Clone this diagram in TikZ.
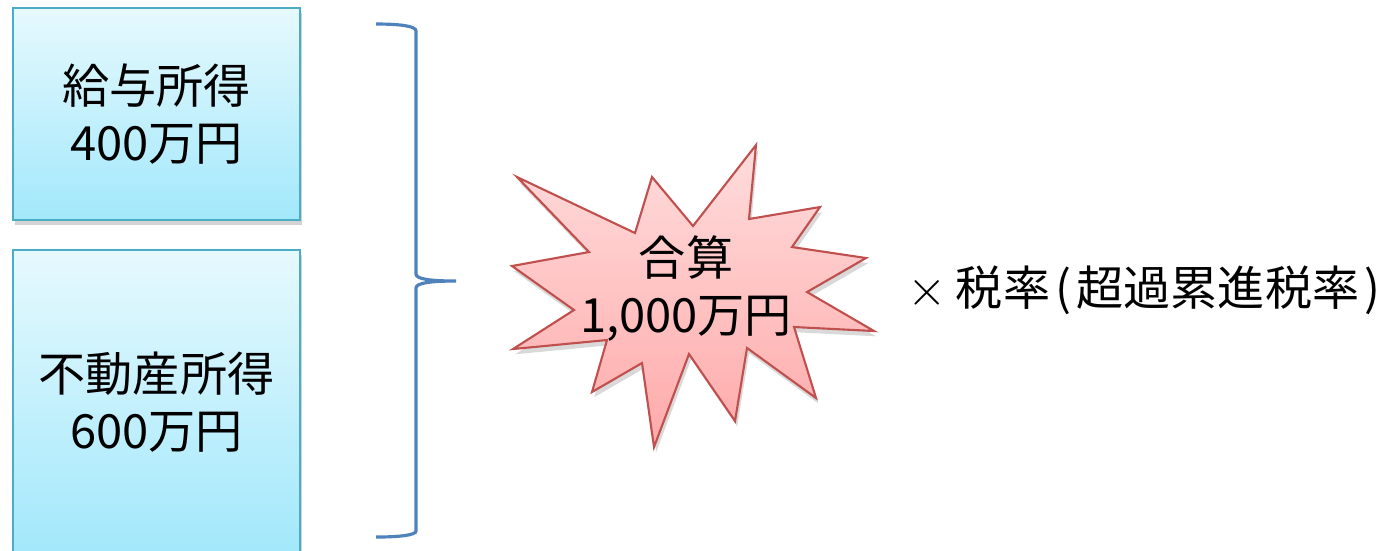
\documentclass[tikz,border=0pt]{standalone}
\usepackage{fontspec}
\setmainfont{Noto Sans CJK JP}
\usetikzlibrary{shadows}

\definecolor{boxline}{HTML}{4BACC6}
\definecolor{boxtop}{HTML}{E6F9FE}
\definecolor{boxbottom}{HTML}{A2E8FB}
\definecolor{braceblue}{HTML}{4F81BD}
\definecolor{startop}{HTML}{FFDCDC}
\definecolor{starbottom}{HTML}{FFAAAA}
\definecolor{starline}{HTML}{C0504D}

\tikzset{
  incomebox/.style={draw=boxline, line width=0.6pt, top color=boxtop, bottom color=boxbottom,
    minimum width=2.87cm, align=center,
    drop shadow={shadow xshift=0.6pt, shadow yshift=-1.5pt, opacity=0.35}},
  burst/.style={draw=starline, line width=0.6pt, top color=startop, bottom color=starbottom,
    line join=miter, drop shadow={shadow xshift=0.6pt, shadow yshift=-1.5pt, opacity=0.3}},
  bracket/.style={braceblue, line width=0.9pt}
}

\begin{document}
\begin{tikzpicture}[x=0.01cm, y=-0.01cm, font=\fontsize{13.4}{16.2}\selectfont]
        \useasboundingbox (0,0) rectangle (1383,550);

        % Income boxes
        \node[incomebox, minimum height=2.12cm] (salary) at (156.5,114) {給与所得\\400万円};
        \node[incomebox, minimum height=3.05cm] (realestate) at (156.5,402.5) {不動産所得\\600万円};

        % Brace
        \coordinate (bracetip) at (456,281);
        \draw[bracket] (376,24) .. controls (400,24) and (416,26) .. (416,31) -- (416,274)
            .. controls (416,279) and (430,281) .. (bracetip)
            .. controls (430,281) and (416,283) .. (416,288) -- (416,531)
            .. controls (416,535) and (400,537) .. (376,537);

        % Starburst
        \draw[burst] (517,177) -- (635,233) -- (652,177) -- (693,226) -- (756,145) -- (749,219)
            -- (820,207) -- (792,247) -- (866,258) -- (807,292) -- (874,331) -- (794,327)
            -- (816,398) -- (747,348) -- (735,421) -- (689,354) -- (654,447) -- (642,363)
            -- (592,392) -- (607,340) -- (513,349) -- (574,310) -- (512,266) -- (589,252) -- cycle;
        \node[align=center] (total) at (686,289) {合算\\1,000万円};

        % Tax rate
        \node[anchor=west, inner sep=0pt] (rate) at (907,290) {$\times$\kern2.5pt 税率\kern1.5pt(\kern1.5pt超過累進税率\kern1.5pt)};

    \end{tikzpicture}
\end{document}
